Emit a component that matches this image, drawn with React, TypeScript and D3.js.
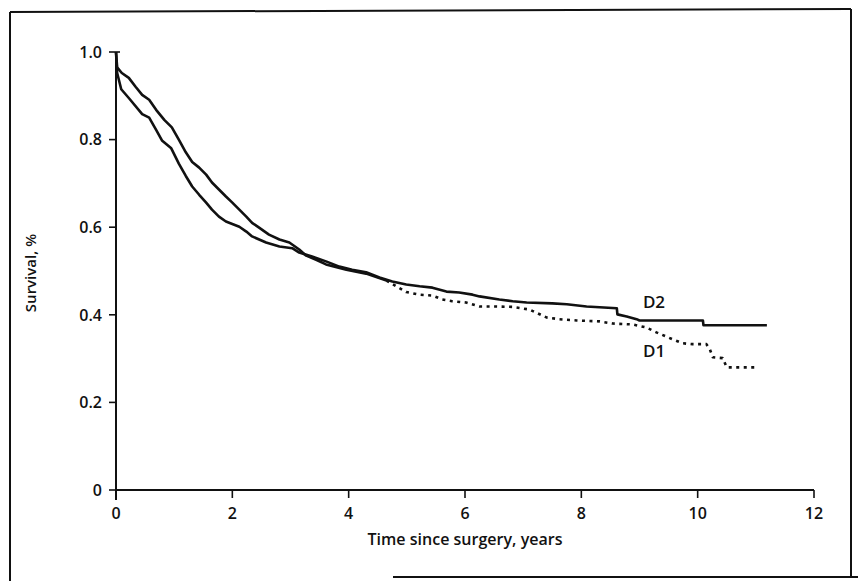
import React from "react";
import * as d3 from "d3";

// Kaplan–Meier survival (time in years, survival fraction)
const d2Times = [0, 0.02, 0.09, 0.22, 0.45, 0.57, 0.69, 0.79, 0.95, 1.08, 1.2, 1.31, 1.43, 1.55, 1.65, 1.77, 1.89, 2.12, 2.24, 2.34, 2.58, 2.81, 3.03, 3.15, 3.37, 3.61, 3.84, 4.06, 4.3, 4.53, 4.75, 4.99, 5.22, 5.44, 5.68, 5.9, 6.13, 6.25, 6.59, 6.82, 7.06, 7.5, 7.75, 8.09, 8.61, 8.62, 8.78, 8.95, 9.0, 10.09, 10.1, 11.19];
const d2Surv = [1.0, 0.952, 0.915, 0.895, 0.858, 0.85, 0.822, 0.798, 0.78, 0.745, 0.717, 0.693, 0.674, 0.656, 0.64, 0.624, 0.613, 0.601, 0.59, 0.579, 0.565, 0.556, 0.552, 0.542, 0.533, 0.522, 0.51, 0.503, 0.497, 0.485, 0.476, 0.469, 0.465, 0.462, 0.453, 0.451, 0.446, 0.442, 0.435, 0.431, 0.428, 0.426, 0.424, 0.419, 0.415, 0.401, 0.396, 0.39, 0.387, 0.387, 0.376, 0.376];

const d1Times = [0, 0.02, 0.1, 0.22, 0.34, 0.45, 0.57, 0.69, 0.83, 0.96, 1.08, 1.2, 1.31, 1.43, 1.55, 1.65, 1.77, 1.89, 2.0, 2.12, 2.24, 2.34, 2.46, 2.63, 2.81, 2.98, 3.15, 3.27, 3.45, 3.61, 3.96, 4.3, 4.65, 4.82, 4.99, 5.22, 5.44, 5.61, 5.78, 6.02, 6.25, 6.54, 6.82, 7.11, 7.4, 7.62, 7.92, 8.31, 8.54, 8.88, 9.12, 9.29, 9.57, 9.74, 9.91, 10.15, 10.21, 10.26, 10.43, 10.5, 11.02];
const d1Surv = [1.0, 0.965, 0.952, 0.941, 0.92, 0.902, 0.891, 0.868, 0.845, 0.828, 0.8, 0.771, 0.749, 0.736, 0.72, 0.702, 0.686, 0.67, 0.656, 0.64, 0.624, 0.61, 0.599, 0.583, 0.572, 0.565, 0.549, 0.535, 0.525, 0.515, 0.503, 0.494, 0.478, 0.465, 0.452, 0.446, 0.444, 0.435, 0.431, 0.428, 0.419, 0.419, 0.418, 0.412, 0.394, 0.39, 0.387, 0.385, 0.38, 0.378, 0.371, 0.36, 0.344, 0.335, 0.333, 0.333, 0.321, 0.303, 0.301, 0.28, 0.28];

const xTicks = [0, 2, 4, 6, 8, 10, 12];
const yTicks = [0, 0.2, 0.4, 0.6, 0.8, 1.0];
const yTickLabels = ["0", "0.2", "0.4", "0.6", "0.8", "1.0"];
const seriesLabels = ["D1", "D2"];
const xTitle = "Time since surgery, years";
const yTitle = "Survival, %";

const FONT = "'Open Sans', 'DejaVu Sans', sans-serif";

export default function App() {
  const x = d3.scaleLinear().domain([0, 12]).range([116, 814]);
  const y = d3.scaleLinear().domain([0, 1]).range([490, 52]);

  const d2 = d2Times.map((t, i) => [t, d2Surv[i]] as [number, number]);
  const d1 = d1Times.map((t, i) => [t, d1Surv[i]] as [number, number]);
  const split = 4.65;
  const d1a = d1.filter((d) => d[0] <= split);
  const d1b = d1.filter((d) => d[0] >= split);

  const line = d3
    .line<[number, number]>()
    .x((d) => x(d[0]))
    .y((d) => y(d[1]))
    .curve(d3.curveLinear);

  const d2End = d2[d2.length - 1];
  const d1End = d1[d1.length - 1];

  return (
    <svg
      width={858}
      height={581}
      style={{ position: "absolute", left: 0, top: 0, background: "#fff" }}
      fontFamily={FONT}
    >
      {/* outer frame */}
      <g stroke="#111" strokeWidth={2} fill="none">
        <line x1={10} y1={12} x2={10} y2={581} />
        <line x1={10} y1={12} x2={851} y2={9} />
        <line x1={851} y1={9} x2={851} y2={577} />
        <line x1={393} y1={577} x2={858} y2={577} />
      </g>

      {/* y axis */}
      <g stroke="#111" strokeWidth={2}>
        <line x1={x(0)} y1={y(1)} x2={x(0)} y2={y(0) + 10} />
        {yTicks.map((v) => (
          <line key={v} x1={x(0) - 7} x2={x(0)} y1={y(v)} y2={y(v)} strokeWidth={1.6} />
        ))}
        <line x1={x(0)} x2={x(0) + 4} y1={y(1)} y2={y(1)} strokeWidth={1.6} />
      </g>
      {yTicks.map((v, i) => (
        <text
          key={v}
          x={x(0) - 14}
          y={y(v)}
          dy="0.36em"
          textAnchor="end"
          fontSize={16}
          fontWeight={600}
          fill="#111"
        >
          {yTickLabels[i]}
        </text>
      ))}

      {/* x axis */}
      <g stroke="#111" strokeWidth={2}>
        <line x1={x(0)} y1={y(0)} x2={x(12)} y2={y(0)} />
        {xTicks.map((v) => (
          <line key={v} x1={x(v)} x2={x(v)} y1={y(0)} y2={y(0) + 8} strokeWidth={1.6} />
        ))}
      </g>
      {xTicks.map((v) => (
        <text
          key={v}
          x={x(v)}
          y={519}
          textAnchor="middle"
          fontSize={16}
          fontWeight={600}
          fill="#111"
        >
          {v}
        </text>
      ))}

      {/* axis titles */}
      <text
        x={x(6)}
        y={545}
        textAnchor="middle"
        fontSize={16}
        fontWeight={600}
        fill="#111"
        textLength={195}
        lengthAdjust="spacingAndGlyphs"
      >
        {xTitle}
      </text>
      <text
        transform="translate(36,273) rotate(-90)"
        textAnchor="middle"
        fontSize={15}
        fontWeight={600}
        fill="#111"
      >
        {yTitle}
      </text>

      {/* curves */}
      <g fill="none" stroke="#111" strokeWidth={2.6} strokeLinejoin="round">
        <path d={line(d2) || ""} />
        <path d={line(d1a) || ""} />
        <path d={line(d1b) || ""} strokeDasharray="3,4.5" />
      </g>

      {/* curve labels */}
      <text x={x(d2End[0]) - 124} y={y(d2End[1]) - 17} fontSize={17} fontWeight={600} fill="#111">
        {seriesLabels[1]}
      </text>
      <text x={x(d1End[0]) - 114} y={y(d1End[1]) - 10} fontSize={17} fontWeight={600} fill="#111">
        {seriesLabels[0]}
      </text>
    </svg>
  );
}
